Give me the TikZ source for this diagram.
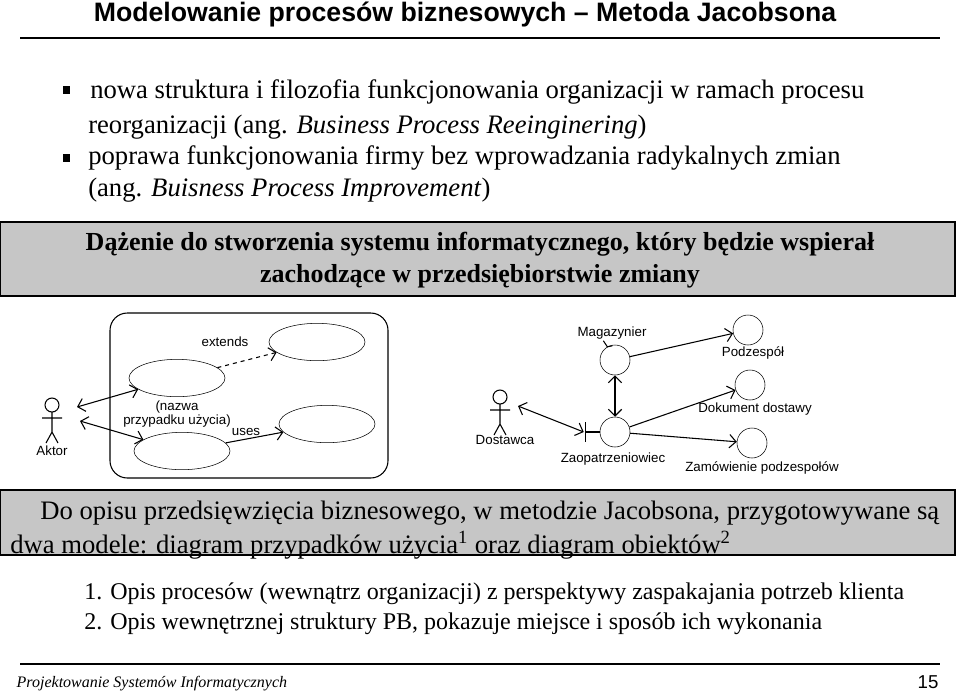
\documentclass[tikz,border=0pt]{standalone}
\usepackage{fontspec}
\setmainfont{Liberation Serif}
\setsansfont{Liberation Sans}
\usetikzlibrary{positioning,shapes.geometric,arrows.meta}

\tikzset{
  usecase/.style={draw, ellipse, minimum width=72, minimum height=28, inner sep=0pt},
  entity/.style={draw, circle, minimum size=22.5, inner sep=0pt},
  lbl/.style={font=\sffamily\fontsize{10}{11}\selectfont, inner sep=1pt},
  body/.style={font=\fontsize{20}{22}\selectfont, inner sep=0pt, anchor=west},
  numbered/.style={font=\fontsize{18}{20}\selectfont, inner sep=0pt, anchor=west},
  graybox/.style={draw, fill=gray!45, line width=0.8pt},
  link/.style={-{Straight Barb[length=5pt]}, thick},
  dlink/.style={{Straight Barb[length=5pt]}-{Straight Barb[length=5pt]}, thick},
  pics/actor/.style={code={
    \draw[thick] (0,-5) circle (7);
    \draw[thick] (0,2) -- (0,22) (-10,8) -- (10,8) (-6,33) -- (0,22) -- (6,33);
  }}
}

\begin{document}
\begin{tikzpicture}[x=0.75pt, y=-0.75pt]
  \useasboundingbox (0,0) rectangle (959,694);
  % header
  \node[font=\sffamily\bfseries\fontsize{20}{22}\selectfont] (title) at (465,14) {Modelowanie procesów biznesowych -- Metoda Jacobsona};
  \draw[line width=2.2pt] (20,38) -- (940,38);
  % bullets
  \fill (63,86) rectangle (70,94);
  \node[body] (b1) at (90,92) {nowa struktura i filozofia funkcjonowania organizacji w ramach procesu};
  \node[body] (b1b) at (88,127) {reorganizacji (ang. \textit{Business Process Reeinginering})};
  \fill (63,154) rectangle (70,162);
  \node[body] (b2) at (88,158) {poprawa funkcjonowania firmy bez wprowadzania radykalnych zmian};
  \node[body] (b2b) at (88,190) {(ang. \textit{Buisness Process Improvement})};
  % first gray box
  \draw[graybox] (0,222) rectangle (955,296);
  \node[font=\bfseries\fontsize{19.5}{22}\selectfont] (goal1) at (480,244) {Dążenie do stworzenia systemu informatycznego, który będzie wspierał};
  \node[font=\bfseries\fontsize{19.5}{22}\selectfont] (goal2) at (480,276) {zachodzące w przedsiębiorstwie zmiany};

  % use case diagram
  \draw[thick, rounded corners=13] (110,313) rectangle (388,478);
  \node[usecase] (ucext) at (317,342) {};
  \node[usecase] (ucmain) at (177,378) {};
  \node[usecase] (ucuses) at (327,424) {};
  \node[usecase] (ucbot) at (182,451) {};
  \pic at (52,410) {actor};
  \node[lbl] (aktorl) at (52,451) {Aktor};
  \draw[dlink] (77,407) -- (ucmain);
  \draw[dlink] (80,421) -- (ucbot);
  \draw[link, dashed] (ucmain) -- (ucext);
  \draw[link] (ucbot) -- (ucuses);
  \node[lbl] (extl) at (225,342) {extends};
  \node[lbl, align=center] (namel) at (177,414) {(nazwa\\przypadku użycia)};
  \node[lbl] (usesl) at (246,432) {uses};

  % object diagram
  \pic at (500,402) {actor};
  \node[lbl] (dostl) at (505,440) {Dostawca};
  \coordinate (dost) at (518,406);
  \node[entity] (zaop) at (615,432) {};
  \draw[thick] (zaop.west) -- ++(-14,0) ++(0,-10) -- ++(0,20);
  \node[lbl] (zaopl) at (613,459) {Zaopatrzeniowiec};
  \node[entity] (mag) at (615,360) {};
  \draw[thick] (mag.120) -- ++(-4,-6) (mag.120) -- ++(5,-1);
  \node[lbl] (magl) at (612,333) {Magazynier};
  \node[entity] (podz) at (748,330) {};
  \node[lbl] (podzl) at (753,353) {Podzespół};
  \node[entity] (dok) at (750,385) {};
  \node[lbl] (dokl) at (755,409) {Dokument dostawy};
  \node[entity] (zam) at (752,443) {};
  \node[lbl] (zaml) at (762,468) {Zamówienie podzespołów};
  \draw[dlink] (dost) -- ([xshift=-12pt]zaop.west);
  \draw[dlink] (mag) -- (zaop);
  \draw[link] (mag) -- (podz);
  \draw[link] (zaop) -- (dok);
  \draw[link] (zaop) -- (zam);

  % second gray box
  \draw[graybox] (0,490) rectangle (955,555);
  \node[body] (d1) at (40,513) {Do opisu przedsięwzięcia biznesowego, w metodzie Jacobsona, przygotowywane są};
  \node[body] (d2) at (10,545) {dwa modele: diagram przypadków użycia\textsuperscript{1} oraz diagram obiektów\textsuperscript{2}};
  \node[numbered] (n1) at (84,594) {1. Opis procesów (wewnątrz organizacji) z perspektywy zaspakajania potrzeb klienta};
  \node[numbered] (n2) at (84,624) {2. Opis wewnętrznej struktury PB, pokazuje miejsce i sposób ich wykonania};

  % footer
  \draw[line width=2.2pt] (20,664) -- (940,664);
  \node[font=\itshape\fontsize{12}{14}\selectfont, anchor=west] (foot) at (12,684) {Projektowanie Systemów Informatycznych};
  \node[font=\sffamily\fontsize{14}{16}\selectfont] (page) at (928,682) {15};
\end{tikzpicture}
\end{document}
